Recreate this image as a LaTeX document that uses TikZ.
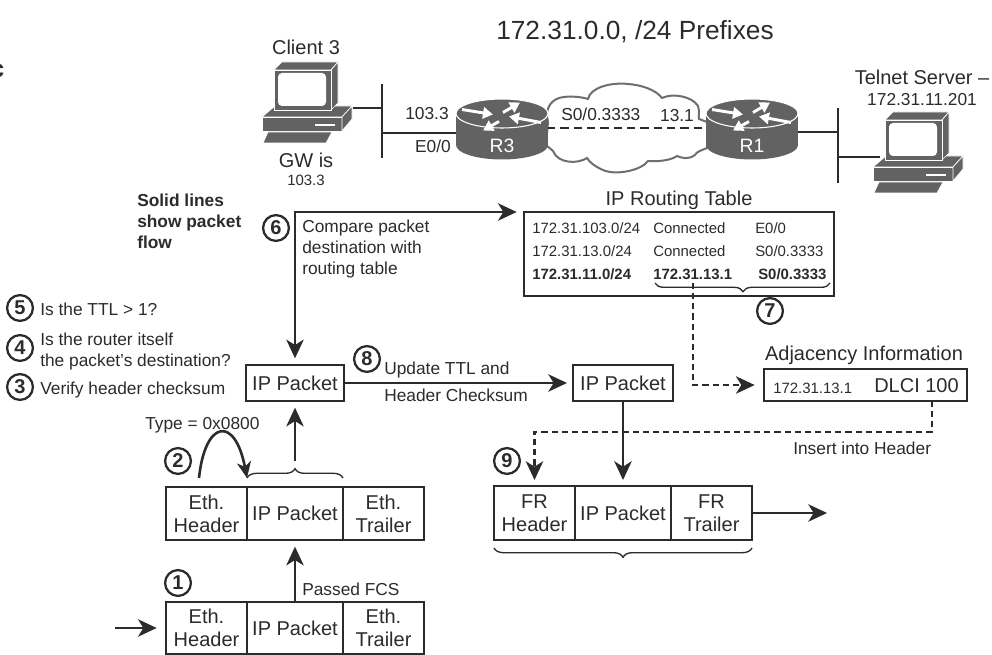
\documentclass[tikz,border=0pt]{standalone}
\usepackage{fontspec}
\setmainfont{Liberation Sans}
\usetikzlibrary{arrows.meta,decorations.pathreplacing}
\definecolor{ink}{HTML}{2B2B2B}
\definecolor{metal}{HTML}{626262}
\definecolor{cloudline}{HTML}{6E6E6E}
\newcommand{\fsbig}{\fontsize{15}{17.2}\selectfont}
\newcommand{\fsmid}{\fontsize{13}{15.5}\selectfont}
\newcommand{\fssmall}{\fontsize{11.2}{13}\selectfont}
\newcommand{\fstitle}{\fontsize{19.7}{23}\selectfont}
\newcommand{\pktbox}[6]{%
  \pgfmathsetlengthmacro\pxw{(#4-#2)*0.75pt}%
  \pgfmathsetlengthmacro\pxh{(#5-#3)*0.75pt}%
  \node[packet,minimum width=\pxw,minimum height=\pxh] (#1) at ({(#2+#4)/2},{(#3+#5)/2}) {#6};}
\tikzset{
  packet/.style={draw=ink,line width=2.1pt,inner sep=0pt,outer sep=0pt,align=center,text=ink,font=\fsbig},
  lbl/.style={inner sep=0pt,text=ink,anchor=mid west,font=\fsmid,align=left,yshift=-2.5pt},
  clbl/.style={inner sep=0pt,text=ink,anchor=mid,font=\fsmid,align=center,yshift=-2.5pt},
  bigt/.style={font=\fsbig,yshift=-0.7pt},
  smallt/.style={font=\fssmall,yshift=0.6pt},
  titlet/.style={font=\fstitle,yshift=-2.4pt},
  numc/.style={circle,draw=ink,line width=1.7pt,minimum size=19.4pt,inner sep=0pt,text=ink,font=\fontsize{15}{15}\selectfont\bfseries},
  flow/.style={draw=ink,line width=1.95pt,-{Stealth[length=14pt,width=13pt,inset=4pt]}},
  flowdash/.style={flow,dash pattern=on 4.6pt off 3pt},
  wire/.style={draw=ink,line width=2.1pt},
  curlyb/.style={draw=ink,line width=1pt,decorate},
  whitearrow/.style={draw=white,line width=2.2pt,-{Triangle[length=7.5pt,width=8.5pt]}},
  pics/routerpic/.style={code={
    \fill[metal] (0,31.5) ellipse [x radius=46,y radius=14.5];
    \fill[metal] (-46,0) rectangle (46,31.5);
    \filldraw[fill=metal,draw=white,line width=.8pt] (0,0) ellipse [x radius=46,y radius=14.5];
    \draw[whitearrow] (-40,-4) -- (-9,1);
    \draw[whitearrow] (1,-1) -- (18,-11);
    \draw[whitearrow] (39,9) -- (7,3);
    \draw[whitearrow] (-3,8) -- (-19,17);
    \node[inner sep=0pt,text=white,font=\fontsize{14.5}{15}\selectfont] at (0,32) {#1};
  }},
  pics/pcpic/.style={code={
    \filldraw[fill=metal,draw=white,line width=.5pt] (-13,47) -- (0,36) -- (77,36) -- (67,47) -- cycle;
    \filldraw[fill=metal,draw=white,line width=.5pt] (-13,47) rectangle (67,61);
    \filldraw[fill=metal,draw=white,line width=.5pt] (67,47) -- (77,36) -- (77,49) -- (67,61) -- cycle;
    \draw[white,line width=1.2pt] (40,55) -- (60,55);
    \filldraw[fill=metal,draw=white,line width=.5pt] (-12,73) -- (-7,62) -- (57,62) -- (51,73) -- cycle;
    \filldraw[fill=metal,draw=white,line width=.5pt] (-1,0) -- (7,-8) -- (63,-8) -- (56,0) -- cycle;
    \filldraw[fill=metal,draw=white,line width=.5pt] (56,0) -- (63,-8) -- (63,33) -- (56,40) -- cycle;
    \filldraw[fill=metal,draw=white,line width=.5pt] (-1,0) rectangle (56,40);
    \fill[white,rounded corners=3pt] (3,3) rectangle (51,36);
  }},
}
\begin{document}
\begin{tikzpicture}[x=0.75pt,y=-0.75pt]
\useasboundingbox (0,0) rectangle (992,655);
\clip (0,0) rectangle (992,655);

% stray cut-off letter
\node[inner sep=0pt,anchor=mid east,text=ink,font=\fontsize{18.7}{20}\selectfont\bfseries,yshift=-2.7pt] (cutc) at (4.5,70) {c};

% titles
\node[clbl,titlet] (title) at (635,29) {172.31.0.0, /24 Prefixes};
\node[clbl,bigt] (client) at (306,47) {Client 3};
\node[clbl,bigt] (gw) at (306,160) {GW is};
\node[clbl,smallt] (gwip) at (306,179) {103.3};
\node[clbl,bigt] (telnet) at (922,77) {Telnet Server –};
\node[clbl] (telnetip) at (922,99) {172.31.11.201};

% cloud
\filldraw[fill=white,draw=cloudline,line width=1.5pt]
  (548,122) .. controls (544,108) and (552,98) .. (564,97)
  .. controls (572,96) and (582,97) .. (588,99)
  .. controls (590,88) and (610,82) .. (628,84)
  .. controls (642,85) and (656,90) .. (662,98)
  .. controls (672,93) and (692,96) .. (698,106)
  .. controls (700,112) and (698,116) .. (699,119)
  -- (707,122) -- (707,148)
  .. controls (702,150) and (696,152) .. (695,155)
  .. controls (688,160) and (682,158) .. (677,156)
  .. controls (672,160) and (658,162) .. (648,161)
  .. controls (642,170) and (616,176) .. (603,170)
  .. controls (596,167) and (590,163) .. (587,158)
  .. controls (578,164) and (558,164) .. (553,151)
  -- (546,145) -- cycle;

% network links
\coordinate (r3w) at (456,133);
\coordinate (r3e) at (547,128);
\coordinate (r1w) at (706,128);
\coordinate (r1e) at (798,132);
\coordinate (lan3top) at (382,84);
\coordinate (lan3bot) at (382,158);
\coordinate (lan1top) at (838,108);
\coordinate (lan1bot) at (838,183);
\coordinate (pc3out) at (353,108);
\coordinate (pc1out) at (880,157);
\draw[wire] (lan3top) -- (lan3bot);
\draw[wire] (lan1top) -- (lan1bot);
\draw[wire] (pc3out) -- (pc3out -| lan3top);
\draw[wire] (r3w -| lan3top) -- (r3w);
\draw[wire] (r1e) -- (r1e -| lan1top);
\draw[wire] (pc1out -| lan1top) -- (pc1out);
\draw[wire,line width=2pt,dash pattern=on 6.2pt off 3.8pt] (r3e) -- (r1w);

\pic (r3) at (502,113.5) {routerpic={R3}};
\pic (r1) at (752,113.5) {routerpic={R1}};
\pic (pc3) at (275,70) {pcpic};
\pic (pc1) at (886,120) {pcpic};

\node[clbl] (ip3) at (427,113) {103.3};
\node[clbl] (e00) at (433,146) {E0/0};
\node[lbl] (s00) at (561,114) {S0/0.3333};
\node[clbl] (ip1) at (677,115) {13.1};

% notes
\node[lbl,font=\fsmid\bfseries] (solid) at (137,200) {Solid lines};
\node[lbl,font=\fsmid\bfseries] (solid2) at (137,221) {show packet};
\node[lbl,font=\fsmid\bfseries] (solid3) at (137,242) {flow};
\node[lbl] (cmp1) at (302,226) {Compare packet};
\node[lbl] (cmp2) at (302,247) {destination with};
\node[lbl] (cmp3) at (302,268) {routing table};
\node[lbl] (ttl) at (40,309) {Is the TTL > 1?};
\node[lbl] (dest1) at (40,339) {Is the router itself};
\node[lbl] (dest2) at (40,360) {the packet’s destination?};
\node[lbl] (chk) at (40,388) {Verify header checksum};
\node[lbl] (upd) at (384,368) {Update TTL and};
\node[lbl] (hck) at (384,395) {Header Checksum};
\node[lbl] (ins) at (793,448) {Insert into Header};
\node[lbl] (typ) at (145,423) {Type = 0x0800};
\node[lbl] (fcs) at (302,589) {Passed FCS};

% numbered circles
\node[numc] (n1) at (178,583) {1};
\node[numc] (n2) at (178,461) {2};
\node[numc] (n3) at (20,387) {3};
\node[numc] (n4) at (20,348) {4};
\node[numc] (n5) at (20,308) {5};
\node[numc] (n6) at (276,228) {6};
\node[numc] (n7) at (770,311) {7};
\node[numc] (n8) at (367,359) {8};
\node[numc] (n9) at (507,461) {9};

% routing table
\pktbox{rt}{524}{212}{834}{296}{}
\node[clbl,bigt] (rttitle) at (679,198) {IP Routing Table};
\node[lbl,smallt] (a1) at (532,227) {172.31.103.0/24};
\node[lbl,smallt] (a2) at (653,227) {Connected};
\node[lbl,smallt] (a3) at (755,227) {E0/0};
\node[lbl,smallt] (b1) at (532,250) {172.31.13.0/24};
\node[lbl,smallt] (b2) at (653,250) {Connected};
\node[lbl,smallt] (b3) at (755,250) {S0/0.3333};
\node[lbl,smallt,font=\fssmall\bfseries] (c1) at (532,273) {172.31.11.0/24};
\node[lbl,smallt,font=\fssmall\bfseries] (c2) at (653,273) {172.31.13.1};
\node[lbl,smallt,font=\fssmall\bfseries] (c3) at (758,273) {S0/0.3333};
\coordinate (bra) at (655,283);
\coordinate (brb) at (830,283);
\draw[curlyb,decoration={brace,mirror,amplitude=6.5pt,aspect=0.503}] (bra) -- (brb);

% adjacency
\pktbox{adj}{764}{369}{967}{401}{}
\node[clbl,bigt] (adjt) at (864,353) {Adjacency Information};
\node[lbl,smallt] (adja) at (773,387) {172.31.13.1};
\node[lbl,bigt] (adjb) at (874,385) {DLCI 100};

% packets
\pktbox{ipa}{246}{365}{344}{401}{IP Packet}
\pktbox{ipb}{573}{365}{673}{401}{IP Packet}
\pktbox{mh}{166}{487}{247}{540}{Eth.\\Header}
\pktbox{mi}{247}{487}{343}{540}{IP Packet}
\pktbox{mt}{343}{487}{424}{540}{Eth.\\Trailer}
\pktbox{lh}{166}{602}{247}{654}{Eth.\\Header}
\pktbox{li}{247}{602}{343}{654}{IP Packet}
\pktbox{lt}{343}{602}{424}{654}{Eth.\\Trailer}
\pktbox{fh}{494}{486}{575}{540}{FR\\Header}
\pktbox{fi}{575}{486}{671}{540}{IP Packet}
\pktbox{ft}{671}{486}{752}{540}{FR\\Trailer}

% braces
\coordinate (bma) at (247,478);
\coordinate (bmb) at (343,478);
\coordinate (bmc) at (295,461);
\draw[curlyb,decoration={brace,amplitude=7pt}] (bma) -- (bmb);
\coordinate (bfa) at (494,548);
\coordinate (bfb) at (752,548);
\draw[curlyb,decoration={brace,mirror,amplitude=7pt}] (bfa) -- (bfb);

% connectors
\coordinate (inp) at (115,628);
\coordinate (outp) at (827,513);
\coordinate (arcs) at (199,478);
\coordinate (dstart) at (693,283);
\coordinate (aout) at (932,401);
\coordinate (dbend) at (932,432);
\draw[flow,shorten >=7pt] (inp) -- (lh.west);
\draw[flow,shorten >=5pt] (li.north) -- (mi.south);
\draw[flow,shorten >=5pt] (bmc) -- (ipa.south);
\draw[flow,-{Stealth[length=12pt,width=10.5pt,inset=3.5pt]}] (arcs) .. controls (205,420) and (235,415) .. (bma);
\draw[draw=ink,line width=1.95pt,{Stealth[length=14pt,width=13pt,inset=4pt]}-{Stealth[length=14pt,width=13pt,inset=4pt]},shorten >=5pt,shorten <=5.5pt] (rt.north west) -| (ipa.north);
\draw[flow,shorten >=4.5pt] (ipa.east) -- (ipb.west);
\draw[flow,shorten >=4.5pt] (ipb.south) -- (fi.north);
\draw[flow] (ft.east) -- (outp);
\draw[flowdash,shorten >=7pt] (dstart) |- (adj.west);
\draw[flowdash,shorten >=4.5pt] (aout) -- (dbend) -| (fh.north);
\end{tikzpicture}
\end{document}
